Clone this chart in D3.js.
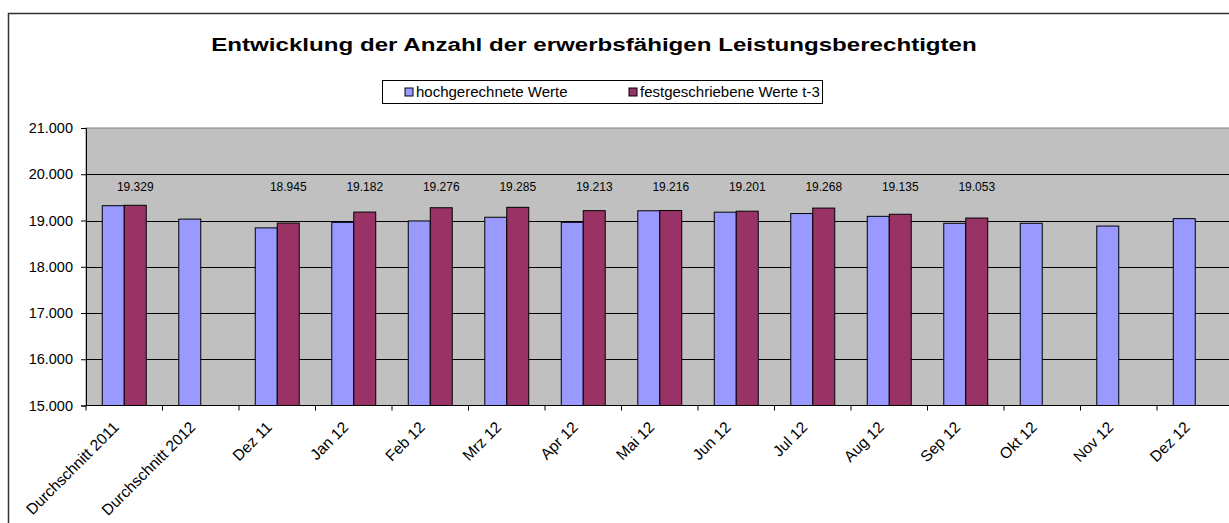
<!DOCTYPE html>
<html>
  <head>
    <script src="https://d3js.org/d3.v7.min.js" charset="utf-8"></script>
    <meta charset="UTF-8">
    <title>Entwicklung erwerbsfähige Leistungsberechtigte</title>
    <style>
      body { margin: 0; background: #fff; }
      text { font-family: "Liberation Sans", Arial, sans-serif; fill: #000; }
    </style>
  </head>
  <body>
    <svg class="chart"></svg>
    <script type="text/javascript">

     // values in thousands (x 1000)
     var categories = ["Durchschnitt 2011", "Durchschnitt 2012", "Dez 11", "Jan 12", "Feb 12",
                       "Mrz 12", "Apr 12", "Mai 12", "Jun 12", "Jul 12", "Aug 12", "Sep 12",
                       "Okt 12", "Nov 12", "Dez 12"];
     var hochgerechnet = [19320, 19030, 18840, 18960, 18990, 19070, 18960, 19210,
                          19180, 19150, 19090, 18940, 18940, 18880, 19040];
     var festgeschrieben = [19329, null, 18945, 19182, 19276, 19285, 19213, 19216,
                            19201, 19268, 19135, 19053, null, null, null];
     var seriesNames = ["hochgerechnete Werte", "festgeschriebene Werte t-3"];
     var yTicks = [15000, 16000, 17000, 18000, 19000, 20000, 21000];

     var width = 1229,
         height = 523,
         plotLeft = 86,
         plotTop = 128,
         plotBottom = 405.5,
         step = 76.5;

     var colors = ["#9999ff", "#993366"];

     var de = d3.formatLocale({decimal: ",", thousands: ".", grouping: [3], currency: ["", " €"]});
     var fmt = de.format(",.0f");

     var chart = d3.select(".chart")
                   .attr("width", width)
                   .attr("height", height);

     // outer frame of the chart object
     chart.append("rect")
          .attr("x", 8.5).attr("y", 13.5)
          .attr("width", 1300).attr("height", 600)
          .attr("fill", "#fff")
          .attr("stroke", "#333").attr("stroke-width", 1.5);

     var x = d3.scaleBand()
               .domain(categories)
               .range([plotLeft, plotLeft + step * categories.length]);

     var x1 = d3.scaleBand()
                .domain([0, 1])
                .range([0, x.bandwidth()])
                .paddingOuter(0.74);

     var y = d3.scaleLinear()
               .domain([15000, 21000])
               .range([plotBottom, plotTop]);

     // plot area
     chart.append("rect")
          .attr("x", plotLeft).attr("y", plotTop)
          .attr("width", x.range()[1] - plotLeft).attr("height", plotBottom - plotTop)
          .attr("fill", "#c0c0c0")
          .attr("stroke", "#808080");

     chart.append("g")
          .selectAll("line")
          .data(yTicks.slice(1, -1))
          .enter().append("line")
          .attr("x1", plotLeft).attr("x2", x.range()[1])
          .attr("y1", function(d) { return Math.round(y(d)) + 0.5; })
          .attr("y2", function(d) { return Math.round(y(d)) + 0.5; })
          .attr("stroke", "#000");

     // bars
     var groups = chart.append("g")
                       .selectAll("g")
                       .data(categories)
                       .enter().append("g")
                       .attr("transform", function(d) { return "translate(" + x(d) + ",0)"; });

     groups.selectAll("rect")
           .data(function(d, i) {
               return [hochgerechnet[i], festgeschrieben[i]].map(function(v, s) { return {s: s, v: v}; })
                        .filter(function(e) { return e.v != null; });
           })
           .enter().append("rect")
           .attr("x", function(d) { return x1(d.s); })
           .attr("width", x1.bandwidth())
           .attr("y", function(d) { return y(d.v); })
           .attr("height", function(d) { return plotBottom - y(d.v); })
           .attr("fill", function(d) { return colors[d.s]; })
           .attr("stroke", "#000")
           .attr("stroke-width", 1);

     // data labels for festgeschriebene Werte
     chart.append("g")
          .selectAll("text")
          .data(categories.filter(function(c, i) { return festgeschrieben[i] != null; }))
          .enter().append("text")
          .attr("x", function(d) { return x(d) + x1(1) + x1.bandwidth() / 2; })
          .attr("y", 190.5)
          .attr("text-anchor", "middle")
          .attr("font-size", "12px")
          .text(function(d) { return fmt(festgeschrieben[categories.indexOf(d)]); });

     // axes
     var yAxis = chart.append("g")
                      .attr("transform", "translate(" + plotLeft + ",0)")
                      .call(d3.axisLeft(y).tickValues(yTicks).tickFormat(fmt).tickSize(5).tickPadding(8));
     yAxis.select(".domain").attr("stroke", "#000");
     yAxis.selectAll("text").attr("font-size", "14.5px").attr("font-family", "Liberation Sans, Arial, sans-serif");

     var xAxis = chart.append("g")
                      .attr("transform", "translate(0," + plotBottom + ")");
     xAxis.append("line")
          .attr("x1", plotLeft).attr("x2", x.range()[1])
          .attr("stroke", "#000");
     xAxis.selectAll(".tick")
          .data(categories)
          .enter().append("line")
          .attr("x1", function(d) { return x(d); })
          .attr("x2", function(d) { return x(d); })
          .attr("y2", 5)
          .attr("stroke", "#000");
     xAxis.selectAll(".lbl")
          .data(categories)
          .enter().append("text")
          .attr("transform", function(d) {
              return "translate(" + (x(d) + x.bandwidth() / 2 - 12) + ",15) rotate(-45)";
          })
          .attr("text-anchor", "end")
          .attr("dy", "0.7em")
          .attr("font-size", "15.5px")
          .text(function(d) { return d; });

     // title (horizontally widened to match the original rendering)
     chart.append("text")
          .attr("transform", "translate(594,51) scale(1.27,1)")
          .attr("text-anchor", "middle")
          .attr("font-size", "19px")
          .attr("font-weight", "bold")
          .text("Entwicklung der Anzahl der erwerbsfähigen Leistungsberechtigten");

     // legend
     var legend = chart.append("g");
     legend.append("rect")
           .attr("x", 382.5).attr("y", 80.5)
           .attr("width", 440).attr("height", 23)
           .attr("fill", "#fff").attr("stroke", "#000");
     var legendX = [405, 629];
     var items = legend.selectAll("g")
                       .data(seriesNames)
                       .enter().append("g")
                       .attr("transform", function(d, i) { return "translate(" + legendX[i] + ",88)"; });
     items.append("rect")
          .attr("width", 8).attr("height", 8)
          .attr("fill", function(d, i) { return colors[i]; })
          .attr("stroke", "#000");
     items.append("text")
          .attr("x", 11).attr("y", 9)
          .attr("font-size", "15px")
          .text(function(d) { return d; });

    </script>
  </body>
</html>
